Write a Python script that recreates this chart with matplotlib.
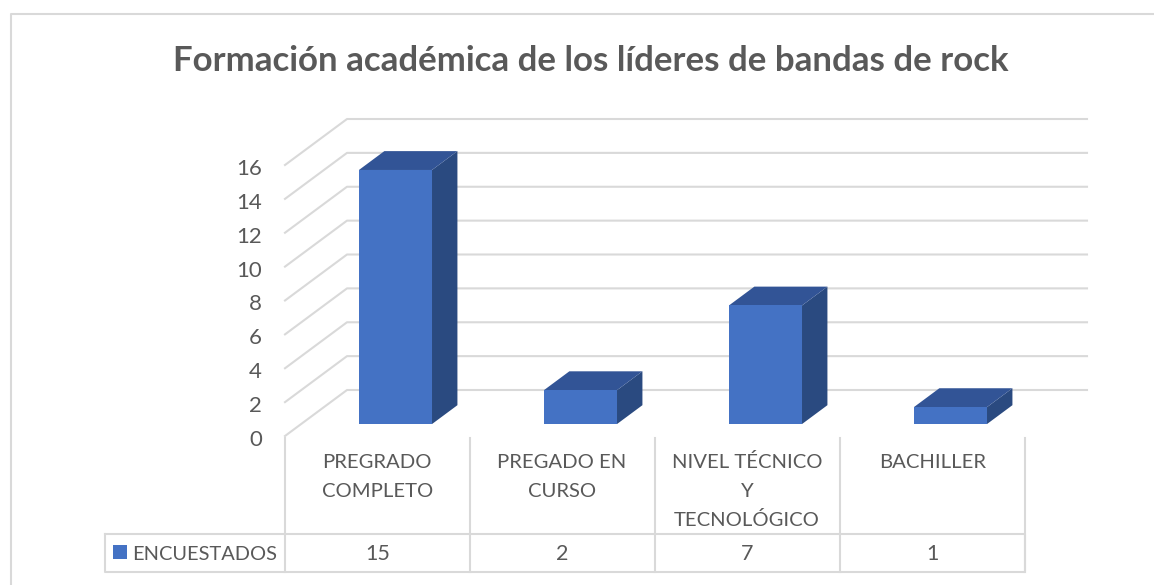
import matplotlib
matplotlib.use('Agg')
import matplotlib.pyplot as plt
from matplotlib.patches import Polygon, Rectangle
from matplotlib.transforms import ScaledTranslation

plt.rcParams['font.family'] = ['Lato', 'DejaVu Sans']

titulo = 'Formación académica de los líderes de bandas de rock'
categorias = ['PREGRADO\nCOMPLETO', 'PREGADO EN\nCURSO', 'NIVEL TÉCNICO\nY\nTECNOLÓGICO', 'BACHILLER']
encuestados = [15, 2, 7, 1]
serie = 'ENCUESTADOS'
yticks = [0, 2, 4, 6, 8, 10, 12, 14, 16]

W, H = 1154, 585
GRIS = '#d9d9d9'
TEXTO = '#595959'

fig = plt.figure(figsize=(W / 100, H / 100), dpi=100)

# capa en pixeles para el marco y la tabla
fondo = fig.add_axes([0, 0, 1, 1])
fondo.set_xlim(0, W)
fondo.set_ylim(H, 0)
fondo.axis('off')

fondo.plot([11, 11, W], [585, 14, 14], color=GRIS, lw=1.5)
fondo.text(590.5, 61, titulo, ha='center', va='center', fontsize=25.1,
           fontweight='bold', color=TEXTO)

# tabla de datos
cols = [285, 469.5, 654.5, 839.5, 1025]
fondo.plot([105, 1025, 1025, 105, 105], [534, 534, 572, 572, 534], color=GRIS, lw=1.5)
for c in cols:
    fondo.plot([c, c], [438, 572], color=GRIS, lw=1.5)
for i in range(4):
    xc = (cols[i] + cols[i + 1]) / 2
    # las lineas se colocan una a una para fijar el interlineado
    for n, linea in enumerate(categorias[i].split('\n')):
        fondo.text(xc, 462.5 + 29 * n, linea, ha='center', va='center', fontsize=14.6,
                   color=TEXTO)
    fondo.text(xc, 554.5, str(encuestados[i]), ha='center', va='center',
               fontsize=15.5, color=TEXTO)
fondo.add_patch(Rectangle((113, 545), 14, 14, color='#4472c4', lw=0))
fondo.text(132, 554.5, serie, ha='left', va='center', fontsize=14.4, color=TEXTO)

# ejes del grafico: plano frontal del cubo
ax = fig.add_axes([285 / W, 1 - 436 / H, 740 / W, 271 / H])
ax.patch.set_alpha(0)
ax.set_xlim(0, 4)
ax.set_ylim(0, 16)
for s in ax.spines.values():
    s.set_visible(False)
ax.set_xticks([])
ax.set_yticks(yticks)
ax.set_yticklabels([str(t) for t in yticks], fontsize=16, color=TEXTO)
ax.tick_params(axis='y', length=0, pad=16.5)
baja = ScaledTranslation(0, -2 / 100, fig.dpi_scale_trans)
for lab in ax.get_yticklabels():
    lab.set_transform(lab.get_transform() + baja)

# proyeccion oblicua: cuanto se mueve un punto al ir al fondo
PROF_X = 62 / 185
PROF_Y = 46 / 16.94


def proy(x, y, z):
    return x + z * PROF_X, y + z * PROF_Y


# rejilla: pared lateral y pared del fondo
for t in yticks:
    x0, y0 = proy(0, t, 0)
    x1, y1 = proy(0, t, 1)
    x2, y2 = proy(4, t, 1)
    ax.plot([x0, x1, x2], [y0, y1, y2], color=GRIS, lw=1.5, clip_on=False, zorder=1)

# barras
ANCHO = 0.395
Z0, Z1 = 0.26, 0.67
for i, v in enumerate(encuestados):
    xa = i + 0.51 - ANCHO / 2
    xb = i + 0.51 + ANCHO / 2
    frente = [proy(xa, 0, Z0), proy(xb, 0, Z0), proy(xb, v, Z0), proy(xa, v, Z0)]
    lado = [proy(xb, 0, Z0), proy(xb, 0, Z1), proy(xb, v, Z1), proy(xb, v, Z0)]
    tapa = [proy(xa, v, Z0), proy(xb, v, Z0), proy(xb, v, Z1), proy(xa, v, Z1)]
    ax.add_patch(Polygon(lado, color='#2a4a80', lw=0, clip_on=False, zorder=3))
    ax.add_patch(Polygon(tapa, color='#325496', lw=0, clip_on=False, zorder=3))
    ax.add_patch(Polygon(frente, color='#4472c4', lw=0, clip_on=False, zorder=4))

fig.savefig('out.png', dpi=100)
